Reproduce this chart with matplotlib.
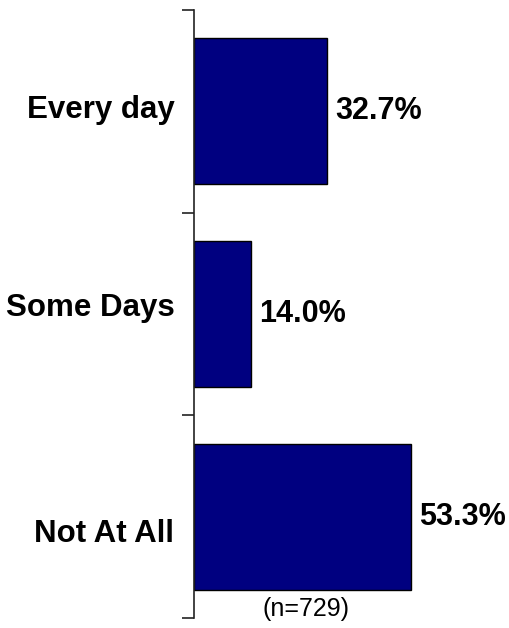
import matplotlib.pyplot as plt
from matplotlib.ticker import FixedLocator, NullFormatter
from matplotlib.transforms import ScaledTranslation

plt.rcParams['font.family'] = ['Liberation Sans', 'DejaVu Sans']

categories = ["Every day", "Some Days", "Not At All"]
values = [32.7, 14.0, 53.3]
sample_note = "(n=729)"

fig = plt.figure(figsize=(5.10, 6.28), dpi=100)
ax = fig.add_axes([0.380, 0.016, 0.439, 0.968])

pos = list(range(len(categories)))
ax.barh(pos, values, height=0.72, color="#000080", edgecolor="black", linewidth=1.0)

ax.set_xlim(0, 55)
ax.set_ylim(len(categories) - 0.5, -0.5)

# value labels to the right of each bar
for p, v in zip(pos, values):
    ax.annotate(f"{v:.1f}%", (v, p), xytext=(6, 0), textcoords="offset points",
                ha="left", va="center", fontsize=22, fontweight="bold")

# boundaries as major ticks, names as minor ticks
ax.yaxis.set_major_locator(FixedLocator([i - 0.5 for i in range(len(categories) + 1)]))
ax.yaxis.set_major_formatter(NullFormatter())
ax.yaxis.set_minor_locator(FixedLocator(pos))
ax.set_yticklabels(categories, minor=True, fontsize=22.5, fontweight="bold")
ax.tick_params(axis="y", which="major", direction="out", length=9, width=1.2, color="#222222")
ax.tick_params(axis="y", which="minor", length=0, pad=14)

# category names don't sit exactly on bar centres in the original
shift_px = [5, 10, -14]
for lab, d in zip(ax.get_yticklabels(minor=True), shift_px):
    lab.set_transform(lab.get_transform() + ScaledTranslation(0, d / 100, fig.dpi_scale_trans))

ax.set_xticks([])
for s in ["top", "right", "bottom"]:
    ax.spines[s].set_visible(False)
ax.spines["left"].set_linewidth(1.2)
ax.spines["left"].set_color("#222222")

ax.text(0.5, 0.015, sample_note, transform=ax.transAxes, ha="center", va="center", fontsize=18)

fig.savefig("out.png", dpi=100)
